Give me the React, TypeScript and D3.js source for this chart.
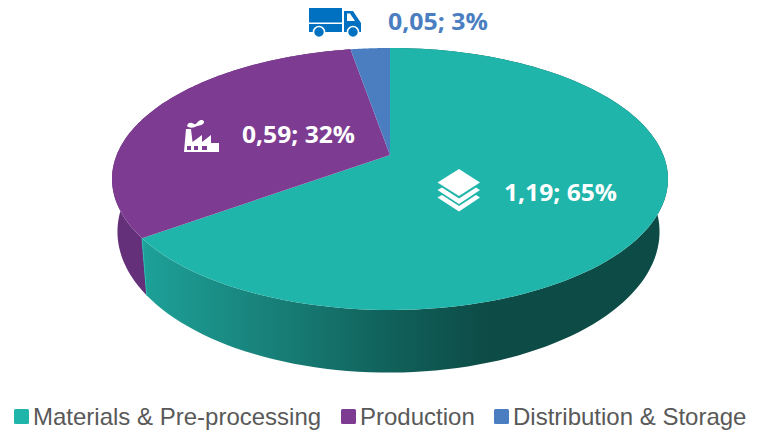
import React from "react";
import * as d3 from "d3";

const categories = ["Materials & Pre-processing", "Production", "Distribution & Storage"];
const values = [1.19, 0.59, 0.05];
const percents = [65, 32, 3];
const topColors = ["#20B5AB", "#7D3C92", "#4A7EC0"];

const W = 757, H = 433;
const APEX_X = 390, APEX_Y = 155, K = 0.183, RX = 273.3, RY = 126.6;
const L_X = 388.5, L_SX = 0.975, L_SY = 1.075, L_Y = 206;
const LEGEND_SWATCH_X = [14, 341, 494];
const LEGEND_TEXT_X = [33, 360, 513];

const proj = (a: number) => {
  const u = Math.sin(a), v = -Math.cos(a), w = 1 - K * v;
  return [u / w, v / w];
};
const topPt = (a: number) => {
  const [x, y] = proj(a);
  return [APEX_X + RX * x, APEX_Y + RY * y];
};
const botPt = (a: number) => {
  const [x, y] = proj(a);
  return [L_X + RX * L_SX * x, L_Y + RY * L_SY * y];
};
const sample = (a0: number, a1: number, f: (a: number) => number[]) =>
  d3.range(0, 121).map((i) => f(a0 + ((a1 - a0) * i) / 120));
const line = d3.line().curve(d3.curveLinear);

const arcs = d3.pie<number>().sort(null)(values);

const topPath = (a0: number, a1: number) =>
  line([[APEX_X, APEX_Y], ...sample(a0, a1, topPt)] as [number, number][]) + "Z";
const sidePath = (a0: number, a1: number) =>
  line([...sample(a0, a1, topPt), ...sample(a1, a0, botPt)] as [number, number][]) + "Z";
const fmt = (i: number) => `${values[i].toFixed(2).replace(".", ",")}; ${percents[i]}%`;

export default function App() {
  const e = arcs[0].endAngle;
  const [ex0, ey0] = topPt(e);
  const [ex1, ey1] = botPt(e);
  return (
    <svg width={W} height={H} style={{ position: "absolute", left: 0, top: 0 }} fontFamily="'Open Sans', sans-serif">
      <defs>
        <linearGradient id="tealSide" gradientUnits="userSpaceOnUse" x1="142" x2="670" y1="0" y2="0">
          <stop offset="0" stopColor="#1DA198" />
          <stop offset="0.225" stopColor="#18837B" />
          <stop offset="0.49" stopColor="#105E58" />
          <stop offset="0.66" stopColor="#0D4B46" />
          <stop offset="1" stopColor="#0D4B46" />
        </linearGradient>
      </defs>
      <path d={sidePath(arcs[1].startAngle, arcs[1].endAngle)} fill="#65307A" />
      <path d={sidePath(arcs[0].startAngle, arcs[0].endAngle)} fill="url(#tealSide)" />
      <line x1={ex0} y1={ey0} x2={ex1} y2={ey1} stroke="#2BB9AF" strokeWidth="1" />
      {arcs.map((d, i) => (
        <path key={i} d={topPath(d.startAngle, d.endAngle)} fill={topColors[i]} />
      ))}
      <g fontWeight="700" fontSize="23">
        <text x="504" y="201" fill="#fff" textLength="113" lengthAdjust="spacingAndGlyphs">{fmt(0)}</text>
        <text x="242" y="143" fill="#fff" textLength="113" lengthAdjust="spacingAndGlyphs">{fmt(1)}</text>
        <text x="388" y="29.5" fill={topColors[2]} textLength="100" lengthAdjust="spacingAndGlyphs">{fmt(2)}</text>
      </g>
      {/* layers icon */}
      <g fill="#fff">
        <path d="M459 169 L480 182.5 L459 196 L437.5 182.5 Z" />
        <path d="M437.5 190 L442 187.5 L459 198.5 L476 187.5 L480 190 L459 204 Z" />
        <path d="M437.5 197.5 L442 195 L459 206 L476 195 L480 197.5 L459 211.5 Z" />
      </g>
      {/* factory icon */}
      <g fill="#fff">
        <path d="M184 152 L186 129 H191 L192.5 142 L202 135 V142 L211 135 V143 H219 V152 Z M187 146 v4 h4 v-4 Z M194 146 v4 h4 v-4 Z M202 146 v4 h5 v-4 Z" fillRule="evenodd" />
        <path d="M187 126 C188 122 191 122 194 124 C197 125 198 120 201 120 C204 120 205 122 203 124 C201 126 198 125 195 127 C192 128 189 128 187 126 Z" />
      </g>
      {/* truck icon */}
      <g fill="#0070C0">
        <rect x="309" y="8" width="33" height="14.5" />
        <rect x="309" y="24" width="33" height="8" />
        <path d="M344 11 H353 L361 23 V32 H344 Z M347 13.5 V21 H355 L350 13.5 Z" fillRule="evenodd" />
        <circle cx="319" cy="32" r="5.5" stroke="#fff" strokeWidth="1.5" />
        <circle cx="353" cy="32" r="5.5" stroke="#fff" strokeWidth="1.5" />
      </g>
      <g fontFamily="Liberation Sans, Arial, sans-serif" fontSize="24" fill="#595959">
        {categories.map((c, i) => (
          <g key={c}>
            <rect x={LEGEND_SWATCH_X[i]} y="409" width="15" height="15" rx="1.5" fill={topColors[i]} />
            <text x={LEGEND_TEXT_X[i]} y="425">{c}</text>
          </g>
        ))}
      </g>
    </svg>
  );
}
